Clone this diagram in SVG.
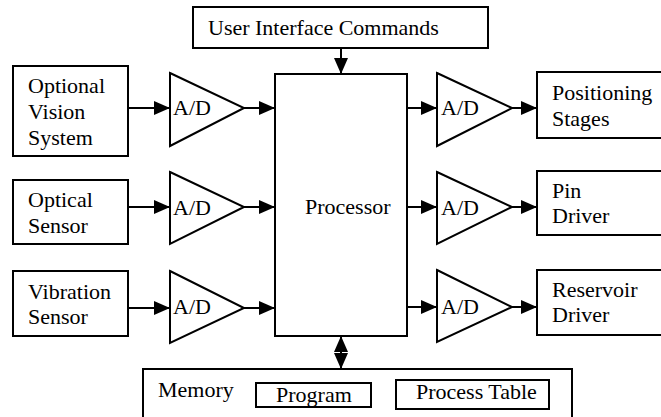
<svg xmlns="http://www.w3.org/2000/svg" width="661" height="417" viewBox="0 0 661 417">
<style>
.box{fill:#fff;stroke:#000;stroke-width:2}
.amp{fill:#fff;stroke:#000;stroke-width:2;stroke-linejoin:miter}
.ln{fill:none;stroke:#000;stroke-width:2}
.t{font-family:'Liberation Serif','DejaVu Serif',serif;font-size:22px;fill:#000}
</style>
<defs>
<marker id="ah" markerUnits="userSpaceOnUse" markerWidth="16" markerHeight="14" refX="16" refY="7" orient="auto">
<path d="M0,0 L16,7 L0,14 Z" fill="#000"/>
</marker>
</defs>
<rect width="661" height="417" fill="#fff"/>
<g class="t">
<g id="ui"><rect class="box" x="193" y="7" width="295" height="41"/><text x="208" y="35">User Interface Commands</text></g>
<g id="processor"><rect class="box" x="275" y="74" width="132" height="262"/><text x="305" y="214">Processor</text></g>
<g id="vision"><rect class="box" x="13" y="66" width="115" height="90"/><text x="28" y="93">Optional</text><text x="28" y="119">Vision</text><text x="28" y="145">System</text></g>
<g id="optical"><rect class="box" x="13" y="180" width="115" height="64"/><text x="28" y="207">Optical</text><text x="28" y="233">Sensor</text></g>
<g id="vibration"><rect class="box" x="13" y="271" width="115" height="65"/><text x="28" y="299">Vibration</text><text x="28" y="324">Sensor</text></g>
<g id="adL1"><path class="amp" d="M170,73 L244,108 L170,146 Z"/><text x="173" y="115">A/D</text></g>
<g id="adL2"><path class="amp" d="M170,172 L244,207 L170,244 Z"/><text x="173" y="215">A/D</text></g>
<g id="adL3"><path class="amp" d="M170,271 L244,308 L170,343 Z"/><text x="173" y="314">A/D</text></g>
<g id="adR1"><path class="amp" d="M437,73 L512,108 L437,146 Z"/><text x="441" y="115">A/D</text></g>
<g id="adR2"><path class="amp" d="M437,172 L512,207 L437,244 Z"/><text x="441" y="215">A/D</text></g>
<g id="adR3"><path class="amp" d="M437,270 L512,307 L437,342 Z"/><text x="441" y="314">A/D</text></g>
<g id="positioning"><rect class="box" x="537" y="72" width="130" height="66"/><text x="552" y="100">Positioning</text><text x="552" y="126">Stages</text></g>
<g id="pin"><rect class="box" x="537" y="171" width="130" height="64"/><text x="552" y="198">Pin</text><text x="552" y="223">Driver</text></g>
<g id="reservoir"><rect class="box" x="537" y="270" width="130" height="65"/><text x="552" y="297">Reservoir</text><text x="552" y="322">Driver</text></g>
<g id="memory"><rect class="box" x="143" y="369" width="429" height="60"/><text x="158" y="397">Memory</text>
<rect class="box" x="256" y="383" width="115" height="24"/><text x="276" y="402">Program</text>
<rect class="box" x="396" y="380" width="153" height="29"/><text x="416" y="399">Process Table</text></g>
</g>
<g id="connectors">
<line class="ln" x1="341" y1="48" x2="341" y2="74" marker-end="url(#ah)"/>
<line class="ln" x1="128" y1="108" x2="170" y2="108" marker-end="url(#ah)"/>
<line class="ln" x1="244" y1="108" x2="275" y2="108" marker-end="url(#ah)"/>
<line class="ln" x1="128" y1="207" x2="170" y2="207" marker-end="url(#ah)"/>
<line class="ln" x1="244" y1="207" x2="275" y2="207" marker-end="url(#ah)"/>
<line class="ln" x1="128" y1="308" x2="170" y2="308" marker-end="url(#ah)"/>
<line class="ln" x1="244" y1="308" x2="275" y2="308" marker-end="url(#ah)"/>
<line class="ln" x1="407" y1="108" x2="437" y2="108" marker-end="url(#ah)"/>
<line class="ln" x1="512" y1="108" x2="537" y2="108" marker-end="url(#ah)"/>
<line class="ln" x1="407" y1="207" x2="437" y2="207" marker-end="url(#ah)"/>
<line class="ln" x1="512" y1="207" x2="537" y2="207" marker-end="url(#ah)"/>
<line class="ln" x1="407" y1="307" x2="437" y2="307" marker-end="url(#ah)"/>
<line class="ln" x1="512" y1="307" x2="537" y2="307" marker-end="url(#ah)"/>
<line class="ln" x1="341" y1="352" x2="341" y2="336" marker-end="url(#ah)"/>
<line class="ln" x1="341" y1="352" x2="341" y2="369" marker-end="url(#ah)"/>
</g>
</svg>
